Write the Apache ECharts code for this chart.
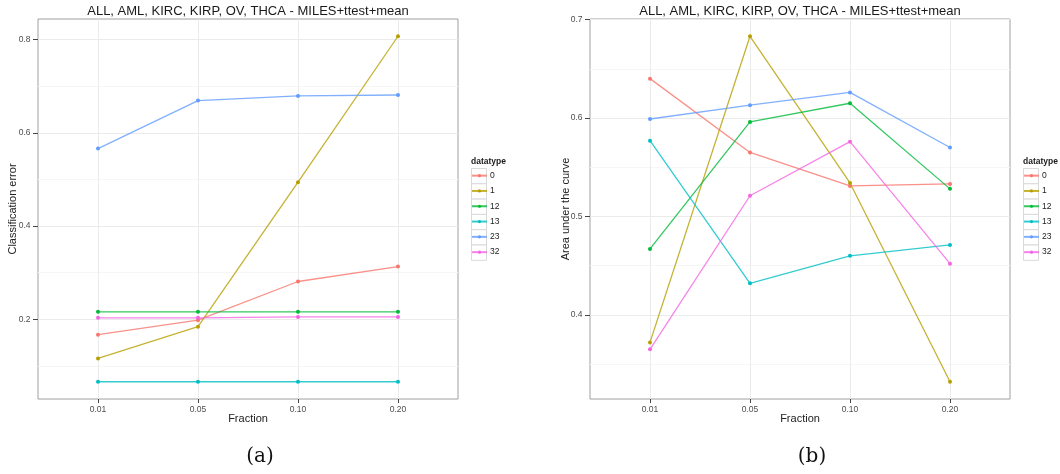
<!DOCTYPE html>
<html>
<head>
<meta charset="utf-8">
<script src="https://cdn.jsdelivr.net/npm/echarts@6/dist/echarts.min.js"></script>
<style>
html, body { margin: 0; padding: 0; background: #fff; }
#chart { width: 1060px; height: 474px; }
</style>
</head>
<body>
<div id="chart"></div>
<script>
// Fractions on the x axis and the datatype groups
const fractions = ['0.01', '0.05', '0.10', '0.20'];
const datatypes = ['0', '1', '12', '13', '23', '32'];
const palette = ['#F8766D', '#B79F00', '#00BA38', '#00BFC4', '#619CFF', '#F564E3'];

// Panel (a): classification error per datatype
const errType0  = [0.167, 0.198, 0.281, 0.313];
const errType1  = [0.116, 0.184, 0.494, 0.807];
const errType12 = [0.216, 0.216, 0.216, 0.216];
const errType13 = [0.066, 0.066, 0.066, 0.066];
const errType23 = [0.566, 0.669, 0.679, 0.681];
const errType32 = [0.203, 0.203, 0.205, 0.205];

// Panel (b): area under the curve per datatype
const aucType0  = [0.640, 0.565, 0.531, 0.533];
const aucType1  = [0.372, 0.683, 0.534, 0.332];
const aucType12 = [0.467, 0.596, 0.615, 0.528];
const aucType13 = [0.577, 0.432, 0.460, 0.471];
const aucType23 = [0.599, 0.613, 0.626, 0.570];
const aucType32 = [0.365, 0.521, 0.576, 0.452];

// Axis ticks
const errTicks = [0.2, 0.4, 0.6, 0.8];
const errMinor = [0.1, 0.3, 0.5, 0.7];
const aucTicks = [0.4, 0.5, 0.6, 0.7];
const aucMinor = [0.35, 0.45, 0.55, 0.65];

const titleText = 'ALL, AML, KIRC, KIRP, OV, THCA - MILES+ttest+mean';
const xTitle = 'Fraction';
const errSeries = [errType0, errType1, errType12, errType13, errType23, errType32];
const aucSeries = [aucType0, aucType1, aucType12, aucType13, aucType23, aucType32];

const chart = echarts.init(document.getElementById('chart'), null, { renderer: 'canvas' });

const sans = 'Liberation Sans, Arial, sans-serif';
const panelW = 420, panelH = 380, panelTop = 19;
const panels = [
  { left: 38, ticks: errTicks, minor: errMinor, min: 0.029, max: 0.844, yName: 'Classification error', yNameX: 12.5, values: errSeries, caption: '(a)' },
  { left: 590, ticks: aucTicks, minor: aucMinor, min: 0.3145, max: 0.7006, yName: 'Area under the curve', yNameX: 566, values: aucSeries, caption: '(b)' }
];

const grid = [], xAxis = [], yAxis = [], series = [], legend = [], graphic = [], title = [];

panels.forEach(function (p, pi) {
  grid.push({
    left: p.left, top: panelTop, width: panelW, height: panelH,
    show: true, borderColor: '#a0a0a0', borderWidth: 1, backgroundColor: '#fff'
  });
  const idx = fractions.map(function (_, i) { return i; });
  xAxis.push({
    type: 'value', gridIndex: pi, min: -0.6, max: 3.6,
    axisLine: { show: false, onZero: false },
    axisTick: { show: true, length: 4, customValues: idx, lineStyle: { color: '#444' } },
    axisLabel: {
      customValues: idx, margin: 6, fontSize: 8.5, color: '#4d4d4d', fontFamily: sans,
      formatter: function (v) { return fractions[Math.round(v)]; }
    },
    splitLine: { show: true, lineStyle: { color: '#ebebeb', width: 1 } }
  });
  // major ticks, labels and grid lines
  yAxis.push({
    type: 'value', gridIndex: pi, min: p.min, max: p.max, position: 'left',
    axisLine: { show: false, onZero: false },
    axisTick: { show: true, length: 5, customValues: p.ticks, lineStyle: { color: '#444' } },
    axisLabel: {
      customValues: p.ticks, margin: 7.5, fontSize: 8.5, color: '#4d4d4d', fontFamily: sans,
      formatter: function (v) { return v.toFixed(1); }
    },
    splitLine: { show: true, lineStyle: { color: '#ebebeb', width: 1 } }
  });
  // faint minor grid lines
  yAxis.push({
    type: 'value', gridIndex: pi, min: p.min, max: p.max, position: 'left',
    axisLine: { show: false, onZero: false },
    axisTick: { show: false, customValues: p.minor },
    axisLabel: { show: false },
    splitLine: { show: true, lineStyle: { color: '#f6f6f6', width: 1 } }
  });

  datatypes.forEach(function (name, si) {
    series.push({
      name: name, type: 'line', xAxisIndex: pi, yAxisIndex: pi * 2,
      data: p.values[si].map(function (v, i) { return [i, v]; }),
      symbol: 'circle', symbolSize: 4, showSymbol: true,
      color: palette[si],
      itemStyle: { color: palette[si] },
      lineStyle: { color: palette[si], width: 1.3, opacity: 0.8 },
      emphasis: { disabled: true },
      animation: false, z: 3
    });
  });

  title.push({
    text: titleText, left: p.left + panelW / 2, top: 5, textAlign: 'center', padding: 0,
    textStyle: { fontSize: 13, fontWeight: 'normal', color: '#1a1a1a', fontFamily: sans }
  });

  // axis titles
  graphic.push({
    type: 'text', x: p.left + panelW / 2, y: 419,
    style: { text: xTitle, font: '11px ' + sans, fill: '#222', textAlign: 'center', textVerticalAlign: 'middle' }
  });
  graphic.push({
    type: 'text', x: p.yNameX, y: panelTop + panelH / 2, rotation: Math.PI / 2,
    style: { text: p.yName, font: '11px ' + sans, fill: '#222', textAlign: 'center', textVerticalAlign: 'middle' }
  });

  const legendLeft = p.left + panelW + 13;
  const legendTop = 168;
  const rowH = 15.3;
  legend.push({
    data: datatypes, orient: 'vertical', left: legendLeft, top: legendTop,
    padding: 0, itemGap: 0, itemWidth: 15, itemHeight: 4,
    textStyle: { fontSize: 8.5, color: '#222', fontFamily: sans, lineHeight: rowH, padding: [0, 0, 0, -2] },
    selectedMode: false
  });
  graphic.push({
    type: 'text', left: legendLeft, top: 157,
    style: { text: 'datatype', font: 'bold 8.5px ' + sans, fill: '#1a1a1a' }
  });
  datatypes.forEach(function (_, i) {
    graphic.push({
      type: 'rect', left: legendLeft, top: legendTop + i * rowH, z: -1,
      shape: { width: 15, height: rowH },
      style: { fill: '#fff', stroke: '#d9d9d9', lineWidth: 1 }
    });
  });
  // caption under the panel
  graphic.push({
    type: 'text', x: p.left + panelW / 2 + 12, y: 457,
    style: { text: p.caption, font: '20px DejaVu Serif, serif', fill: '#111', textAlign: 'center', textVerticalAlign: 'middle' }
  });
});

chart.setOption({
  backgroundColor: '#fff',
  animation: false,
  title: title,
  grid: grid,
  xAxis: xAxis,
  yAxis: yAxis,
  legend: legend,
  graphic: graphic,
  series: series
});
</script>
</body>
</html>
